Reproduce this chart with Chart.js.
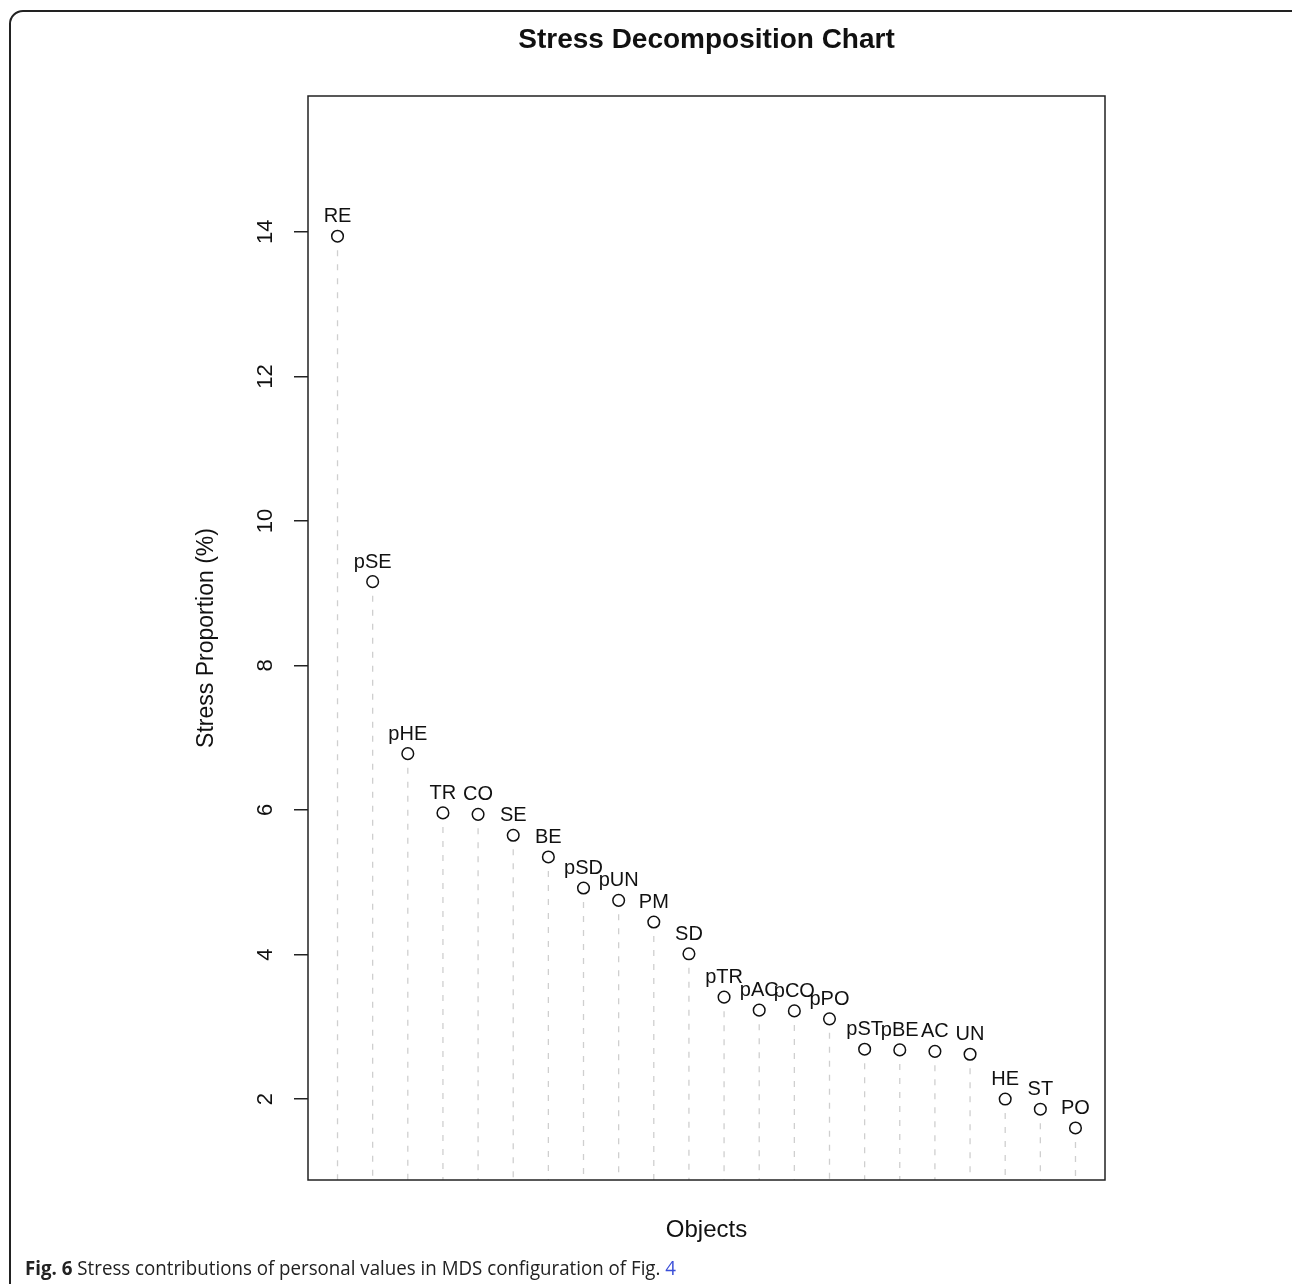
<!DOCTYPE html>
<html>
<head>
<meta charset="utf-8">
<script src="https://cdn.jsdelivr.net/npm/chart.js@4"></script>
<style>
  html, body { margin: 0; padding: 0; background: #fff; }
  #wrap { position: relative; width: 1292px; height: 1284px; overflow: hidden; }
  #frame {
    position: absolute; left: 9px; top: 10px; width: 1296px; height: 1320px;
    border: 2px solid #222; border-radius: 14px; box-sizing: border-box;
  }
  #chart { position: absolute; left: 0; top: 0; }
  #caption {
    position: absolute; left: 25px; top: 1254px; white-space: nowrap;
    font-family: "Open Sans", sans-serif; font-size: 20px; color: #222;
    transform-origin: 0 0;
  }
  #caption b { font-weight: 700; }
  #caption .ref { color: #3b4fd8; }
</style>
</head>
<body>
<div id="wrap">
  <div id="frame"></div>
  <canvas id="chart" width="1292" height="1284"></canvas>
  <div id="caption"><b>Fig. 6</b> Stress contributions of personal values in MDS configuration of Fig. <span class="ref">4</span></div>
</div>
<script>
// Objects, in the order they are plotted
const categories = ['RE','pSE','pHE','TR','CO','SE','BE','pSD','pUN','PM','SD',
                    'pTR','pAC','pCO','pPO','pST','pBE','AC','UN','HE','ST','PO'];
// Stress proportion (%) per object
const stressValues = [13.94, 9.16, 6.78, 5.96, 5.94, 5.65, 5.35, 4.92, 4.75, 4.45, 4.01,
                      3.41, 3.23, 3.22, 3.11, 2.69, 2.68, 2.66, 2.62, 2.00, 1.86, 1.60];
// Y axis tick labels
const yTicks = [2, 4, 6, 8, 10, 12, 14];

const Y_MIN = 0.88, Y_MAX = 15.88;
const X_MIN = 0.16, X_MAX = categories.length + 0.84;
const FONT = '"Liberation Sans", Arial, Helvetica, sans-serif';

const points = stressValues.map((v, i) => ({ x: i + 1, y: v }));
// Dashed drop lines from each point down to the bottom of the plot
const stems = stressValues.flatMap((v, i) => [
  { x: i + 1, y: v }, { x: i + 1, y: Y_MIN }, { x: i + 1, y: null }
]);

const decorations = {
  id: 'decorations',
  afterDatasetsDraw(chart) {
    const ctx = chart.ctx;
    const meta = chart.getDatasetMeta(0);
    ctx.save();
    ctx.fillStyle = '#111';
    ctx.font = '20px ' + FONT;
    ctx.textAlign = 'center';
    ctx.textBaseline = 'alphabetic';
    meta.data.forEach((pt, i) => {
      ctx.fillText(categories[i], pt.x, pt.y - 14);
    });
    ctx.restore();
  },
  afterDraw(chart) {
    const ctx = chart.ctx;
    const a = chart.chartArea;
    const ys = chart.scales.y;
    ctx.save();
    // plot box
    ctx.strokeStyle = '#222';
    ctx.lineWidth = 1.5;
    ctx.strokeRect(a.left, a.top, a.right - a.left, a.bottom - a.top);
    // rotated y tick labels
    ctx.fillStyle = '#111';
    ctx.font = '22px ' + FONT;
    ctx.textAlign = 'center';
    ctx.textBaseline = 'middle';
    yTicks.forEach(v => {
      const py = ys.getPixelForValue(v);
      ctx.save();
      ctx.translate(266, py);
      ctx.rotate(-Math.PI / 2);
      ctx.fillText(String(v), 0, 0);
      ctx.restore();
    });
    // y axis title
    ctx.font = '23px ' + FONT;
    ctx.save();
    ctx.translate(207, (a.top + a.bottom) / 2);
    ctx.rotate(-Math.PI / 2);
    ctx.fillText('Stress Proportion (%)', 0, 0);
    ctx.restore();
    // x axis title
    ctx.font = '24px ' + FONT;
    ctx.fillText('Objects', (a.left + a.right) / 2, 1230);
    // main title
    ctx.font = 'bold 28px ' + FONT;
    ctx.fillText('Stress Decomposition Chart', (a.left + a.right) / 2, 40);
    ctx.restore();
  }
};

new Chart(document.getElementById('chart'), {
  type: 'scatter',
  data: {
    datasets: [
      {
        data: points,
        order: 0,
        showLine: false,
        pointStyle: 'circle',
        pointRadius: 5.8,
        pointBorderWidth: 1.5,
        pointBorderColor: '#111',
        pointBackgroundColor: '#fff'
      },
      {
        data: stems,
        order: 1,
        showLine: true,
        spanGaps: false,
        borderColor: '#cfcfcf',
        borderWidth: 1.3,
        borderDash: [6, 8],
        pointRadius: 0
      }
    ]
  },
  plugins: [decorations],
  options: {
    responsive: false,
    animation: false,
    layout: { padding: { left: 0, top: 96, right: 187, bottom: 104 } },
    plugins: { legend: { display: false }, tooltip: { enabled: false } },
    scales: {
      x: {
        type: 'linear', min: X_MIN, max: X_MAX, display: false
      },
      y: {
        type: 'linear', min: Y_MIN, max: Y_MAX,
        afterBuildTicks(scale) { scale.ticks = yTicks.map(v => ({ value: v })); },
        afterFit(scale) { scale.width = 308; },
        border: { display: false },
        grid: {
          drawOnChartArea: false, drawTicks: true, tickLength: 14,
          color: '#222', lineWidth: 1.5
        },
        ticks: { display: false }
      }
    }
  }
});

// Fit the caption line to its set width
const cap = document.getElementById('caption');
const w = cap.getBoundingClientRect().width;
cap.style.transform = 'scaleX(' + (651 / w) + ')';
</script>
</body>
</html>
